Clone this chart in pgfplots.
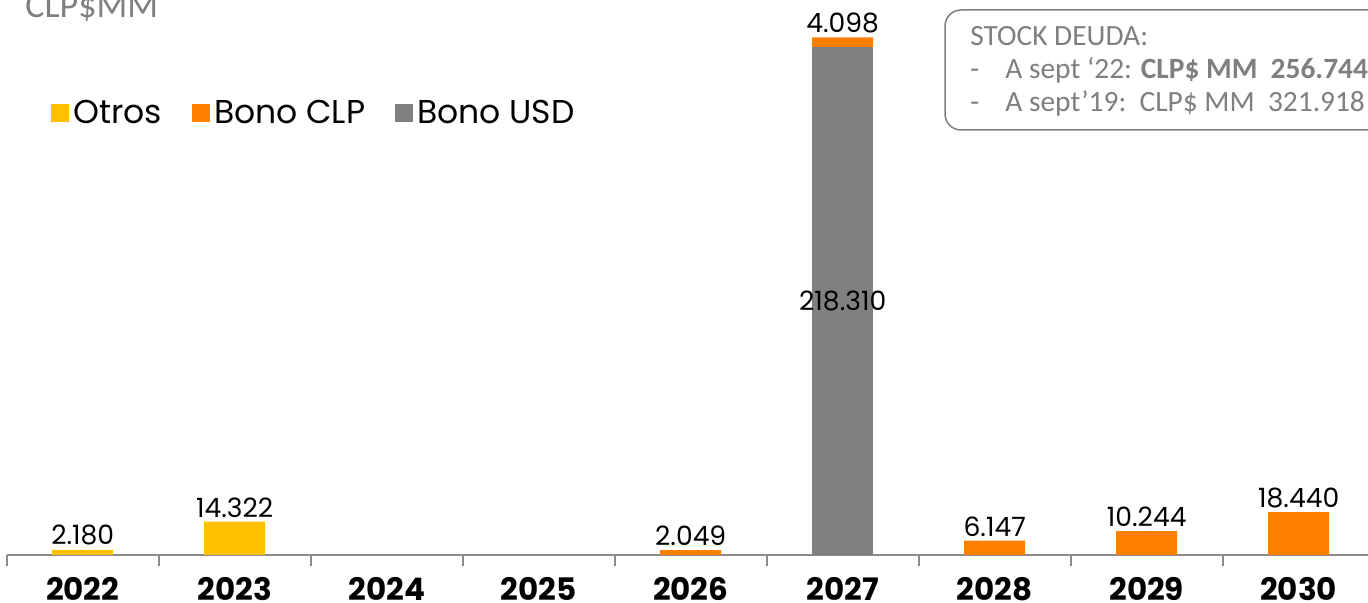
\documentclass[border=0pt]{standalone}
\usepackage{pgfplots}
\pgfplotsset{compat=1.18}
\usepackage{fontspec}
\setmainfont{Poppins}
\newfontfamily\carlito{Carlito}

\definecolor{otros}{HTML}{FFC000}
\definecolor{bonoclp}{HTML}{FF8000}
\definecolor{bonousd}{HTML}{808080}
\definecolor{txtgray}{HTML}{7F7F7F}
\definecolor{axgray}{HTML}{8C8C8C}

% shared frame: 1 px of the reference = 0.5pt
\pgfplotsset{
  base/.style={
    scale only axis, width=684pt, height=267.6pt,
    at={(3.35pt,24pt)}, anchor=south west,
    xmin=-0.5, xmax=8.5, ymin=0, ymax=230,
    clip=false,
  },
  sq/.style={legend image code/.code={\fill[##1] (0pt,-4.5pt) rectangle (9pt,4.5pt);}},
}

\begin{document}
\begin{tikzpicture}
\begin{axis}[base,
  ybar stacked, bar width=30.5pt,
  axis x line*=bottom, axis y line=none,
  x axis line style={axgray, line width=1pt, -},
  xtick={0,...,8},
  xticklabels={2022,2023,2024,2025,2026,2027,2028,2029,2030},
  tick align=outside,
  major tick length=0pt,
  xticklabel style={font=\fontsize{15.5}{18}\selectfont\bfseries, text=black, yshift=-7.5pt},
  extra x ticks={-0.5,0.5,1.5,2.5,3.5,4.5,5.5,6.5,7.5,8.5},
  extra x tick labels={},
  extra x tick style={major tick length=5.5pt, tick style={axgray, line width=1pt}},
  legend columns=3, reverse legend,
  legend style={at={(0.028,0.825)}, anchor=west, draw=none, fill=none,
    font=\fontsize{16.5}{19}\selectfont, legend cell align=left,
    /tikz/every even column/.append style={column sep=13pt}},
]
\addplot[fill=bonousd, draw=none, sq] coordinates {
  (0,0) (1,0) (2,0) (3,0) (4,0) (5,218.310) (6,0) (7,0) (8,0)};
\addlegendentry{Bono USD}
\addplot[fill=bonoclp, draw=none, sq] coordinates {
  (0,0) (1,0) (2,0) (3,0) (4,2.049) (5,4.098) (6,6.147) (7,10.244) (8,18.440)};
\addlegendentry{Bono CLP}
\addplot[fill=otros, draw=none, sq] coordinates {
  (0,2.180) (1,14.322) (2,0) (3,0) (4,0) (5,0) (6,0) (7,0) (8,0)};
\addlegendentry{Otros}
\end{axis}

% value labels
\begin{axis}[base, hide axis,
  nodes near coords, point meta=explicit symbolic,
  nodes near coords style={font=\fontsize{13.3}{15}\selectfont, text=black, anchor=south, inner sep=2pt},
]
\addplot[only marks, mark=*, mark size=0pt, mark options={draw=none, fill=none}] coordinates {
  (0,2.180)[2.180] (1,14.322)[14.322] (4,2.049)[2.049] (5,222.408)[4.098]
  (6,6.147)[6.147] (7,10.244)[10.244] (8,18.440)[18.440]};
\addplot[only marks, mark=*, mark size=0pt, mark options={draw=none, fill=none},
  nodes near coords style={anchor=center}] coordinates {(5,109.155)[218.310]};
\end{axis}

\node[anchor=base west, font=\carlito\fontsize{18}{20}\selectfont, text=txtgray, inner sep=0pt]
  at (12.5pt,292.5pt) {CLP\$MM};

\draw[txtgray, line width=0.75pt, rounded corners=8pt] (472.5pt,236.5pt) rectangle (710pt,296.5pt);
\begin{scope}[every node/.style={anchor=base west, inner sep=0pt, text=txtgray,
    font=\carlito\fontsize{14.7}{17}\selectfont}]
\node at (485pt,278.5pt) {STOCK DEUDA:};
\node at (485pt,262pt) {-};
\node at (502.5pt,262pt) {A sept ‘22: \textbf{CLP\$ MM\ \ 256.744}};
\node at (485pt,245.5pt) {-};
\node at (502.5pt,245.5pt) {A sept’19:\ \ CLP\$ MM\ \ 321.918};
\end{scope}

\pgfresetboundingbox
\useasboundingbox (0,0) rectangle (684pt,301.5pt);
\end{tikzpicture}
\end{document}
